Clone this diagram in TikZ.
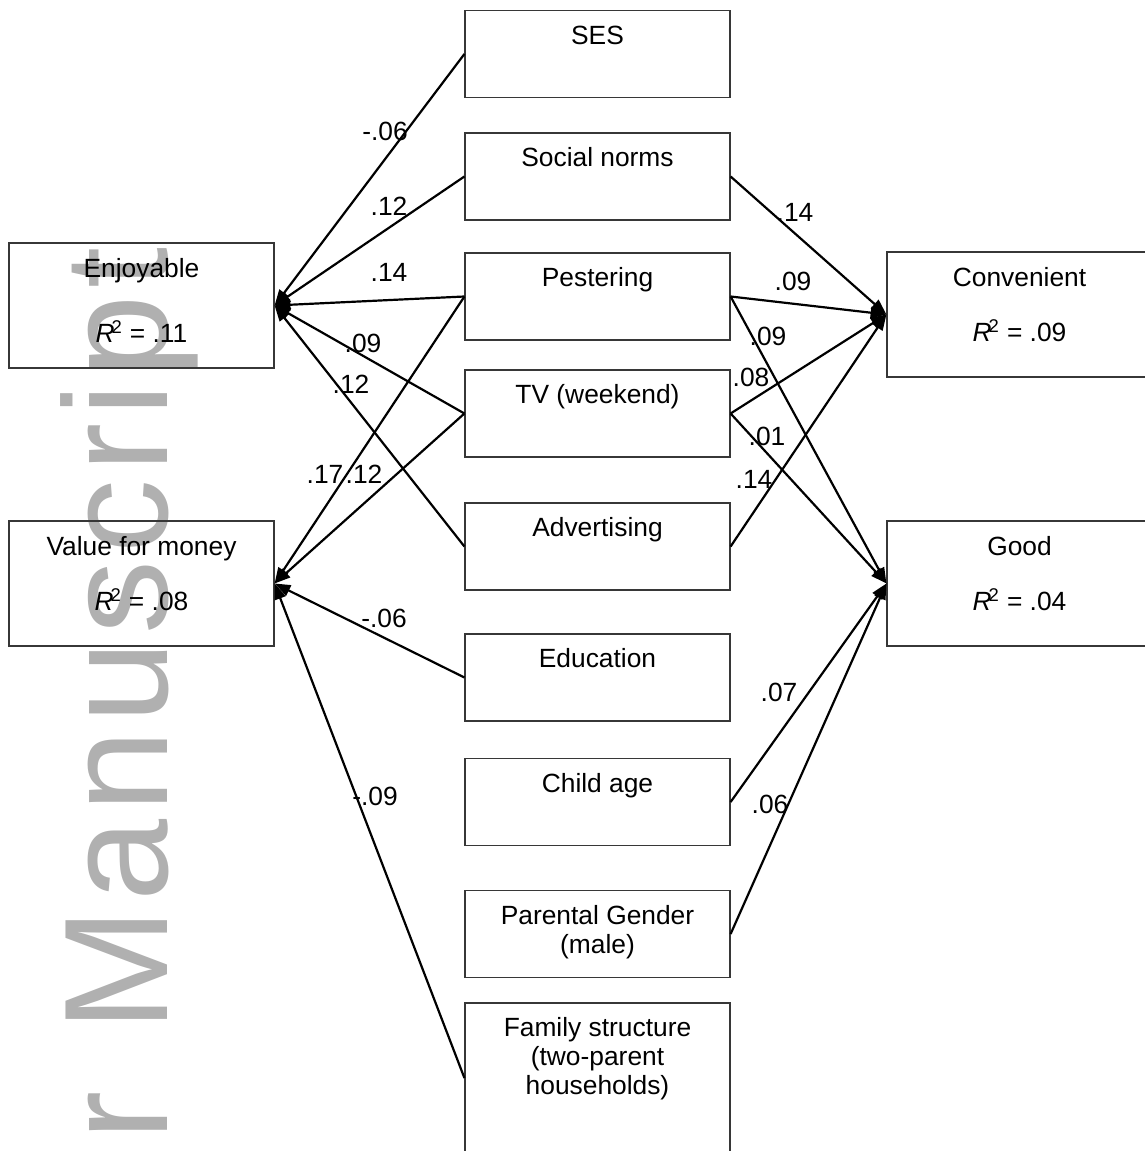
\documentclass[tikz,border=0pt]{standalone}
\usepackage{fontspec}
\setmainfont{Liberation Sans}
\newfontfamily\wmfont[LetterSpace=4.7]{Liberation Sans}
\usetikzlibrary{arrows.meta,positioning}
\definecolor{wmgray}{RGB}{176,176,176}
\definecolor{boxline}{RGB}{55,55,55}

\begin{document}
\begin{tikzpicture}[x=0.02cm, y=-0.02cm, >={Triangle[length=9pt,width=6.5pt]},
		font=\fontsize{15}{16.5}\selectfont]
		
		% Styles
		\tikzset{
			box/.style={draw=boxline, line width=0.7pt, minimum width=5.3cm, minimum height=1.74cm, inner sep=0pt},
			outbox/.style={box, minimum height=2.5cm},
			famblock/.style={box, minimum height=3cm},
			txt/.style={align=center, inner sep=0pt},
			wt/.style={inner sep=0pt},
			link/.style={->, line width=1.25pt},
			wm/.style={text=wmgray, inner sep=0pt, font=\wmfont\fontsize{84}{84}\selectfont}
		}
		
		\useasboundingbox (0,0) rectangle (1144,1151);
		
		% Watermark
		\node[wm, rotate=90, anchor=base west] (wmark) at (167,1561) {Author\hspace{0.24cm} Manuscript};
		
		% Outcomes (left)
		\node[outbox] (enj) at (141.5,305.5) {};
		\node[txt, below=0.28cm of enj.north] (enjT)
		{\strut Enjoyable\\[19pt]\textit{R}\kern-0.12em\textsuperscript{2} = .11};
		
		\node[outbox] (val) at (141.5,583.5) {};
		\node[txt, below=0.28cm of val.north] (valT)
		{\strut Value for money\\[13pt]\textit{R}\kern-0.12em\textsuperscript{2} = .08};
		
		% Predictors (middle)
		\node[box] (ses) at (597.5,54) {};
		\node[txt, below=0.27cm of ses.north] (sesT) {\strut SES};
		
		\node[box] (soc) at (597.5,176.5) {};
		\node[txt, below=0.27cm of soc.north] (socT) {\strut Social norms};
		
		\node[box] (pest) at (597.5,296.5) {};
		\node[txt, below=0.27cm of pest.north] (pestT) {\strut Pestering};
		
		\node[box] (tv) at (597.5,413.5) {};
		\node[txt, below=0.27cm of tv.north] (tvT) {\strut TV (weekend)};
		
		\node[box] (adv) at (597.5,546.5) {};
		\node[txt, below=0.27cm of adv.north] (advT) {\strut Advertising};
		
		\node[box] (edu) at (597.5,677.5) {};
		\node[txt, below=0.27cm of edu.north] (eduT) {\strut Education};
		
		\node[box] (child) at (597.5,802) {};
		\node[txt, below=0.27cm of child.north] (childT) {\strut Child age};
		
		\node[box] (par) at (597.5,934) {};
		\node[txt, below=0.27cm of par.north] (parT) {\strut Parental Gender\\(male)};
		
		\node[famblock] (fam) at (597.5,1078) {};
		\node[txt, below=0.27cm of fam.north] (famT)
		{\strut Family structure\\(two-parent\\households)};
		
		% Outcomes (right)
		\node[outbox] (conv) at (1019.5,314.5) {};
		\node[txt, below=0.29cm of conv.north] (convT)
		{\strut Convenient\\[13pt]\textit{R}\kern-0.12em\textsuperscript{2} = .09};
		
		\node[outbox] (good) at (1019.5,583.5) {};
		\node[txt, below=0.29cm of good.north] (goodT)
		{\strut Good\\[13pt]\textit{R}\kern-0.12em\textsuperscript{2} = .04};
		
		% Paths
		\draw[link] (ses.west) -- (enj.east);
		\draw[link] (soc.west) -- (enj.east);
		\draw[link] (pest.west) -- (enj.east);
		\draw[link] (tv.west) -- (enj.east);
		\draw[link] (adv.west) -- (enj.east);
		
		\draw[link] (pest.west) -- (val.east);
		\draw[link] (tv.west) -- (val.east);
		\draw[link] (edu.west) -- (val.east);
		\draw[link] (fam.west) -- (val.east);
		
		\draw[link] (soc.east) -- (conv.west);
		\draw[link] (pest.east) -- (conv.west);
		\draw[link] (tv.east) -- (conv.west);
		\draw[link] (adv.east) -- (conv.west);
		
		\draw[link] (pest.east) -- (good.west);
		\draw[link] (tv.east) -- (good.west);
		\draw[link] (child.east) -- (good.west);
		\draw[link] (par.east) -- (good.west);
		
		% Weights
		\node[wt] (wSesEnj) at (385,131) {-.06};
		\node[wt] (wSocEnj) at (389,206) {.12};
		\node[wt] (wPestEnj) at (389,272) {.14};
		\node[wt] (wTvEnj) at (363,343) {.09};
		\node[wt] (wAdvEnj) at (351,384) {.12};
		\node[wt] (wPestVal) at (325,474) {.17};
		\node[wt] (wTvVal) at (364,474) {.12};
		\node[wt] (wEduVal) at (384,618) {-.06};
		\node[wt] (wFamVal) at (375,796) {-.09};
		
		\node[wt] (wSocConv) at (795,212) {.14};
		\node[wt] (wPestConv) at (793,281) {.09};
		\node[wt] (wTvConv) at (751,377) {.08};
		\node[wt] (wAdvConv) at (754,479) {.14};
		
		\node[wt] (wPestGood) at (768,336) {.09};
		\node[wt] (wTvGood) at (767,436) {.01};
		\node[wt] (wChildGood) at (779,692) {.07};
		\node[wt] (wParGood) at (770,804) {.06};
		
	\end{tikzpicture}
\end{document}
